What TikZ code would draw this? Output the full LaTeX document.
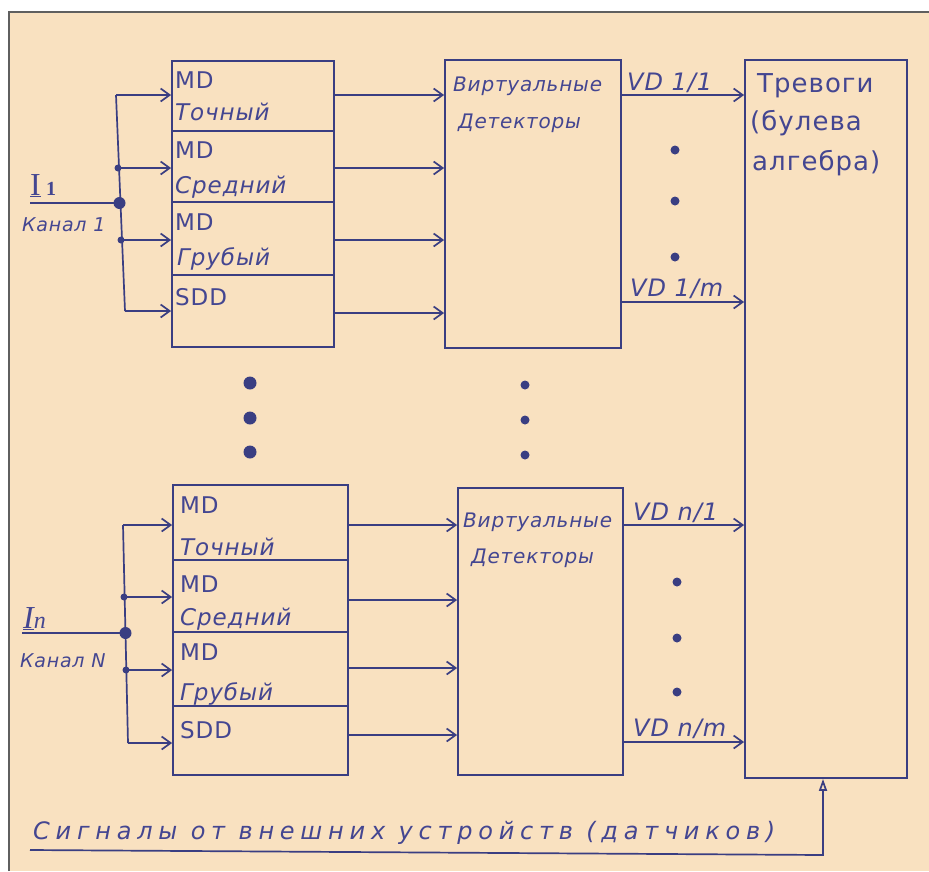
\documentclass[tikz,border=0pt]{standalone}
\usepackage{fontspec}
\setmainfont{DejaVu Sans}[LetterSpace=4]
\newfontfamily\serifI{Liberation Serif}
\usetikzlibrary{arrows.meta}
\definecolor{paper}{RGB}{249,225,192}
\definecolor{ink}{RGB}{58,62,130}
\definecolor{txt}{RGB}{68,70,145}
\definecolor{framec}{RGB}{95,95,95}
\tikzset{
  box/.style={draw=ink, line width=1.8pt, inner sep=0pt},
  wire/.style={draw=ink, line width=1.7pt},
  arr/.style={wire, -{Straight Barb[length=9pt,width=13pt]}},
  uparr/.style={wire, -{Triangle[open,length=12pt,width=8pt]}},
  lbl/.style={text=txt, anchor=base west, inner sep=0pt},
  mdf/.style={lbl, font=\fontsize{23}{26}\selectfont},
  itf/.style={lbl, font=\fontsize{23}{26}\selectfont\itshape},
  vdf/.style={lbl, font=\fontsize{20}{24}\selectfont\itshape},
  outf/.style={lbl, font=\fontsize{24}{26}\selectfont\itshape},
  alf/.style={lbl, font=\fontsize{26}{28}\selectfont},
  chf/.style={lbl, font=\fontsize{19}{22}\selectfont\itshape},
}
\begin{document}
\begin{tikzpicture}[x=1pt,y=-1pt]
\useasboundingbox (0,0) rectangle (929,871);
\fill[white] (0,0) rectangle (929,871);
\fill[paper] (9,12) rectangle (929,871);
\draw[framec, line width=1.2pt] (9,871) -- (9,12) -- (929,12);

% ---------- boxes ----------
\node[box, minimum width=162pt, minimum height=286pt] (md1) at (253,204) {};
\node[box, minimum width=176pt, minimum height=288pt] (vd1) at (533,204) {};
\node[box, minimum width=162pt, minimum height=718pt] (alarm) at (826,419) {};
\node[box, minimum width=175pt, minimum height=290pt] (md2) at (260.5,630) {};
\node[box, minimum width=165pt, minimum height=287pt] (vd2) at (540.5,631.5) {};

% dividers
\foreach \y in {131,202,275} \draw[wire] (md1.west |- 0,\y) -- (md1.east |- 0,\y);
\foreach \y in {560,632,706} \draw[wire] (md2.west |- 0,\y) -- (md2.east |- 0,\y);

% ---------- group 1 texts ----------
\node[mdf] (a1) at (175,88) {MD};
\node[itf] (a2) at (175,120) {Точный};
\node[mdf] (a3) at (175,158) {MD};
\node[itf] (a4) at (175,193) {Средний};
\node[mdf] (a5) at (175,230) {MD};
\node[itf] (a6) at (177,265) {Грубый};
\node[mdf] (a7) at (175,305) {SDD};
\node[vdf] (v1a) at (453,91) {Виртуальные};
\node[vdf] (v1b) at (458,128) {Детекторы};
\node[alf] (al1) at (757,92) {Тревоги};
\node[alf] (al2) at (750,130) {(булева};
\node[alf] (al3) at (752,170) {алгебра)};

% ---------- group 2 texts ----------
\node[mdf] (c1) at (180,513) {MD};
\node[itf] (c2) at (180,555) {Точный};
\node[mdf] (c3) at (180,592) {MD};
\node[itf] (c4) at (180,625) {Средний};
\node[mdf] (c5) at (180,660) {MD};
\node[itf] (c6) at (180,700) {Грубый};
\node[mdf] (c7) at (180,738) {SDD};
\node[vdf] (v2a) at (463,527) {Виртуальные};
\node[vdf] (v2b) at (471,563) {Детекторы};

% ---------- inputs group 1 ----------
\node[lbl, font=\fontsize{32}{34}\serifI] (in1lbl) at (30,195) {\underline{I}\,{\fontsize{20}{22}\selectfont\bfseries 1}};
\node[chf] (ch1) at (22,231) {Канал 1};
\coordinate (i1) at (30,203);
\coordinate (j1) at (119.5,203);
\coordinate (b1) at (116,95);
\coordinate (b2) at (118,168);
\coordinate (b3) at (121,240);
\coordinate (b4) at (125,311);
\draw[wire] (b1) -- (b4);
\draw[wire] (i1) -- (j1);
\foreach \c in {b1,b2,b3,b4} \draw[arr] (\c) -- (\c -| md1.west);
\fill[ink] (j1) circle (6pt);
\fill[ink] (b2) circle (3.5pt);
\fill[ink] (b3) circle (3.5pt);

% ---------- inputs group 2 ----------
\node[lbl, font=\fontsize{32}{34}\serifI\itshape] (in2lbl) at (23,628) {\underline{I}{\fontsize{24}{26}\selectfont n}};
\node[chf] (ch2) at (20,667) {Канал N};
\coordinate (i2) at (22,633);
\coordinate (j2) at (125.5,633);
\coordinate (d1) at (123,525);
\coordinate (d2) at (124,597);
\coordinate (d3) at (126,670);
\coordinate (d4) at (128,743);
\draw[wire] (d1) -- (d4);
\draw[wire] (i2) -- (j2);
\foreach \c in {d1,d2,d3,d4} \draw[arr] (\c) -- (\c -| md2.west);
\fill[ink] (j2) circle (6pt);
\fill[ink] (d2) circle (3.5pt);
\fill[ink] (d3) circle (3.5pt);

% ---------- MD -> VD ----------
\foreach \y in {95,168,240,313} \draw[arr] (md1.east |- 0,\y) -- (vd1.west |- 0,\y);
\foreach \y in {525,600,668,735} \draw[arr] (md2.east |- 0,\y) -- (vd2.west |- 0,\y);

% ---------- VD -> alarms ----------
\draw[arr] (vd1.east |- 0,95) -- (alarm.west |- 0,95);
\node[outf] (o11) at (627,90) {VD 1/1};
\draw[arr] (vd1.east |- 0,302) -- (alarm.west |- 0,302);
\node[outf] (o1m) at (630,296) {VD 1/m};
\draw[arr] (vd2.east |- 0,525) -- (alarm.west |- 0,525);
\node[outf] (on1) at (633,520) {VD n/1};
\draw[arr] (vd2.east |- 0,742) -- (alarm.west |- 0,742);
\node[outf] (onm) at (633,736) {VD n/m};

% ---------- ellipsis dots ----------
\foreach \y in {150,201,257} \fill[ink] (675,\y) circle (4.5pt);
\foreach \y in {582,638,692} \fill[ink] (677,\y) circle (4.5pt);
\foreach \y in {383,418,452} \fill[ink] (250,\y) circle (6.5pt);
\foreach \y in {385,420,455} \fill[ink] (525,\y) circle (4.5pt);

% ---------- external signals ----------
\coordinate (sL) at (30,850);
\coordinate (sR) at (823,855);
\draw[uparr] (sL) -- (sR) -- (sR |- alarm.south);
\node[lbl, font=\fontsize{24}{26}\selectfont\itshape\addfontfeatures{LetterSpace=24}] (sig) at (33,839) {Сигналы от внешних устройств (датчиков)};
\end{tikzpicture}
\end{document}
